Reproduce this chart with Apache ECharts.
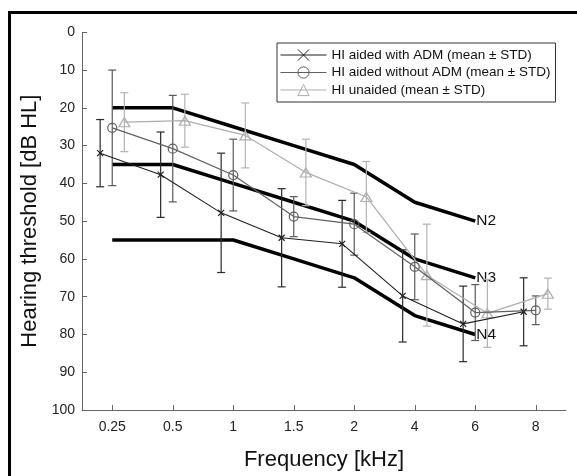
<!DOCTYPE html>
<html>
<head>
<meta charset="utf-8">
<script src="https://cdn.jsdelivr.net/npm/echarts@6/dist/echarts.min.js"></script>
<style>html,body{margin:0;padding:0;background:#fff}#c{width:577px;height:476px}</style>
</head>
<body>
<div id="c"></div>
<script>
const freqLabels = ['0.25', '0.5', '1', '1.5', '2', '4', '6', '8'];
const yTicks = [0, 10, 20, 30, 40, 50, 60, 70, 80, 90, 100];

// HI aided with ADM
const admMean = [32, 37.7, 47.8, 54.4, 56, 69.8, 77.2, 74];
const admStd  = [8.9, 11.3, 15.8, 13, 11.5, 12.2, 10, 9];
// HI aided without ADM
const noAdmMean = [25.3, 30.8, 37.8, 48.8, 50.8, 62.1, 74.2, 73.6];
const noAdmStd  = [15.3, 14.1, 9.5, 5.3, 8.2, 8.7, 7.4, 3.8];
// HI unaided
const unaidedMean = [23.8, 23.4, 27.3, 37.1, 43.6, 64.3, 74.4, 69.2];
const unaidedStd  = [7.8, 7, 8.6, 8.8, 9.4, 13.5, 9, 4.1];

// Standard audiograms (0.25 .. 6 kHz)
const n2 = [20, 20, 25, 30, 35, 45, 50];
const n3 = [35, 35, 40, 45, 50, 60, 65];
const n4 = [55, 55, 55, 60, 65, 75, 80];

const offsets = { adm: -0.2, noAdm: 0, unaided: 0.2 };
const FONT = '"Liberation Sans", Arial, Helvetica, sans-serif';

function pts(arr, off) { return arr.map((v, i) => [i + 1 + off, v]); }
function bars(mean, std, off) { return mean.map((v, i) => [i + 1 + off, v - std[i], v + std[i]]); }

function errRender(color) {
  return function (params, api) {
    const x = api.value(0);
    const a = api.coord([x, api.value(1)]);
    const b = api.coord([x, api.value(2)]);
    const w = 4;
    const st = { stroke: color, lineWidth: 1.2 };
    return {
      type: 'group',
      children: [
        { type: 'line', shape: { x1: a[0], y1: a[1], x2: b[0], y2: b[1] }, style: st },
        { type: 'line', shape: { x1: a[0] - w, y1: a[1], x2: a[0] + w, y2: a[1] }, style: st },
        { type: 'line', shape: { x1: b[0] - w, y1: b[1], x2: b[0] + w, y2: b[1] }, style: st }
      ]
    };
  };
}

function nLine(data, label) {
  return {
    type: 'line', data: pts(data, 0), symbol: 'none', silent: true,
    lineStyle: { color: '#000', width: 3.5 },
    endLabel: { show: true, formatter: label, color: '#111', fontSize: 15.5, fontFamily: FONT, distance: 1 },
    z: 1
  };
}

const colADM = '#1e1e1e', colNo = '#606060', colUn = '#adadad';

const chart = echarts.init(document.getElementById('c'), null, { renderer: 'canvas' });
chart.setOption({
  animation: false,
  backgroundColor: '#fff',
  graphic: [{
    type: 'rect', left: 7, top: 10, shape: { width: 620, height: 520 },
    style: { fill: 'none', stroke: '#000', lineWidth: 3 }, z: 100, silent: true
  }],
  grid: { left: 82, top: 32.3, right: 11, bottom: 66 },
  legend: {
    orient: 'vertical', left: 277, top: 43,
    data: ['HI aided with ADM (mean \u00b1 STD)', 'HI aided without ADM (mean \u00b1 STD)', 'HI unaided (mean \u00b1 STD)'],
    itemWidth: 46, itemHeight: 14, itemGap: 3.5,
    padding: [5, 5, 5, 3],
    borderColor: '#333', borderWidth: 1, backgroundColor: '#fff',
    lineStyle: { width: 1 },
    itemStyle: { borderWidth: 1 },
    textStyle: { fontSize: 13.5, color: '#111', fontFamily: FONT },
    selectedMode: false
  },
  xAxis: {
    type: 'value', min: 0.5, max: 8.5,
    name: 'Frequency [kHz]', nameLocation: 'middle', nameGap: 39,
    nameTextStyle: { fontSize: 22, color: '#111', fontFamily: FONT },
    axisLine: { show: true, onZero: false, lineStyle: { color: '#666', width: 1 } },
    axisTick: { show: true, inside: true, length: 5, customValues: [1, 2, 3, 4, 5, 6, 7, 8], lineStyle: { color: '#666' } },
    axisLabel: { customValues: [1, 2, 3, 4, 5, 6, 7, 8], formatter: v => freqLabels[Math.round(v) - 1], fontSize: 14, color: '#222', fontFamily: FONT, margin: 10 },
    splitLine: { show: false }
  },
  yAxis: {
    type: 'value', min: 0, max: 100, interval: 10, inverse: true,
    name: 'Hearing threshold [dB HL]', nameLocation: 'middle', nameGap: 40,
    nameTextStyle: { fontSize: 22, color: '#111', fontFamily: FONT },
    axisLine: { show: true, lineStyle: { color: '#666', width: 1 } },
    axisTick: { show: true, inside: true, length: 5, lineStyle: { color: '#666' } },
    axisLabel: { fontSize: 14, color: '#222', fontFamily: FONT, margin: 7, formatter: v => (yTicks.indexOf(v) >= 0 ? String(v) : '') },
    splitLine: { show: false }
  },
  series: [
    nLine(n2, 'N2'), nLine(n3, 'N3'), nLine(n4, 'N4'),
    { type: 'custom', name: 'errUn', renderItem: errRender('#b3b3b3'), data: bars(unaidedMean, unaidedStd, offsets.unaided), encode: { x: 0, y: [1, 2] }, z: 2, silent: true },
    { type: 'custom', name: 'errNo', renderItem: errRender('#5a5a5a'), data: bars(noAdmMean, noAdmStd, offsets.noAdm), encode: { x: 0, y: [1, 2] }, z: 2, silent: true },
    { type: 'custom', name: 'errAdm', renderItem: errRender('#2a2a2a'), data: bars(admMean, admStd, offsets.adm), encode: { x: 0, y: [1, 2] }, z: 2, silent: true },
    {
      type: 'line', name: 'HI unaided (mean \u00b1 STD)', data: pts(unaidedMean, offsets.unaided),
      symbol: 'triangle', symbolSize: [11, 9], showAllSymbol: true,
      lineStyle: { color: colUn, width: 1.2 },
      itemStyle: { color: 'rgba(255,255,255,0)', borderColor: colUn, borderWidth: 1.2 }, z: 3
    },
    {
      type: 'line', name: 'HI aided without ADM (mean \u00b1 STD)', data: pts(noAdmMean, offsets.noAdm),
      symbol: 'circle', symbolSize: 9, showAllSymbol: true,
      lineStyle: { color: colNo, width: 1.2 },
      itemStyle: { color: 'rgba(255,255,255,0)', borderColor: colNo, borderWidth: 1.2 }, z: 4
    },
    {
      type: 'line', name: 'HI aided with ADM (mean \u00b1 STD)', data: pts(admMean, offsets.adm),
      symbol: 'path://M0,0L10,10M10,0L0,10', symbolSize: 6, showAllSymbol: true,
      lineStyle: { color: colADM, width: 1.1 },
      itemStyle: { color: 'rgba(0,0,0,0)', borderColor: colADM, borderWidth: 1.2 }, z: 5
    }
  ]
});
</script>
</body>
</html>
